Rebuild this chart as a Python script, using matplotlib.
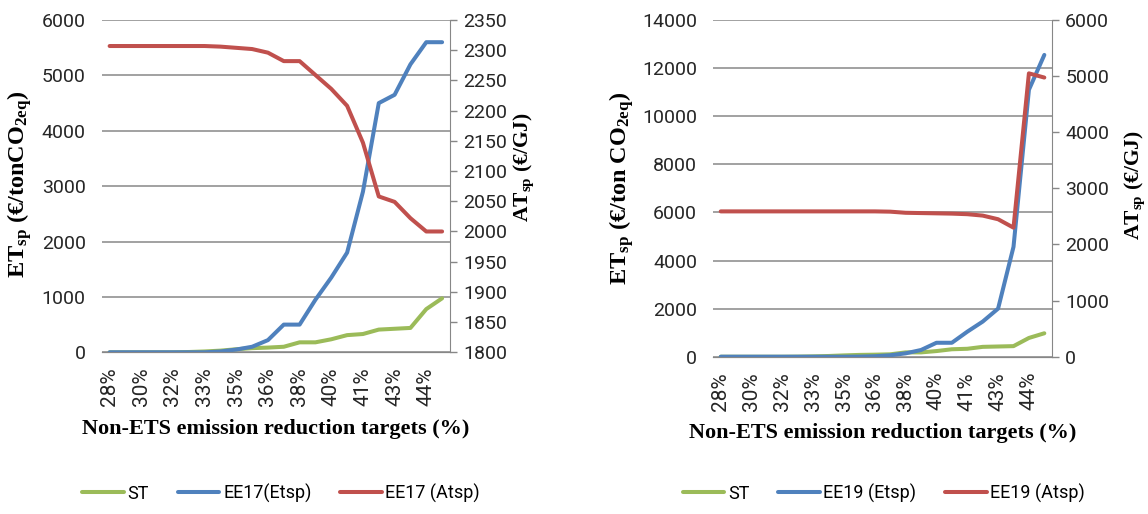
import numpy as np
import matplotlib
matplotlib.use("Agg")
import matplotlib.pyplot as plt

plt.rcParams['mathtext.fontset'] = 'custom'
plt.rcParams['mathtext.rm'] = 'Liberation Serif:bold'
plt.rcParams['mathtext.bf'] = 'Liberation Serif:bold'
plt.rcParams['mathtext.it'] = 'Liberation Serif:bold:italic'

# Non-ETS emission reduction targets (one entry per model run)
targets = ['28%', '29%', '30%', '31%', '32%', '32%', '33%', '34%', '35%', '35%', '36%',
           '37%', '38%', '39%', '40%', '40%', '41%', '42%', '43%', '43%', '44%', '45%']

# Standard technology scenario, ETsp in EUR/tCO2eq
st = [0, 0, 0, 0, 0, 5, 15, 30, 55, 75, 85,
      100, 180, 180, 235, 310, 330, 410, 425, 440, 780, 975]

# EE17 scenario
ee17_etsp = [0, 0, 0, 0, 0, 0, 0, 15, 50, 100, 220,
             500, 500, 950, 1350, 1800, 2900, 4500, 4650, 5200, 5600, 5600]
ee17_atsp = [2307, 2307, 2307, 2307, 2307, 2307, 2307, 2306, 2304, 2302, 2296,
             2282, 2282, 2259, 2236, 2208, 2147, 2058, 2049, 2022, 2000, 2000]

# EE19 scenario
ee19_etsp = [0, 0, 0, 0, 0, 0, 0, 0, 0, 5, 20,
             60, 140, 280, 580, 580, 1040, 1460, 2000, 4570, 11100, 12550]
ee19_atsp = [2590, 2590, 2590, 2590, 2590, 2590, 2590, 2590, 2590, 2590, 2590,
             2585, 2565, 2560, 2555, 2550, 2540, 2515, 2450, 2300, 5050, 4975]

GREEN = '#9BBB59'
BLUE = '#4F81BD'
RED = '#C0504D'
GRID = '#878787'
TICK_FONT = ['Roboto', 'DejaVu Sans']
SERIF = 'Liberation Serif'
W, H = 1148, 514

x = np.arange(len(targets))


def draw_panel(rect, etsp, atsp, etsp_name, atsp_name, ylim, ystep, y2lim, y2step,
               ylabel, ylabel_pos, y2label_pos, legend_x):
    ax = fig.add_axes(rect)
    ax2 = ax.twinx()

    l1, = ax.plot(x, st, color=GREEN, lw=2.9, solid_capstyle='round', label='ST')
    l2, = ax.plot(x, etsp, color=BLUE, lw=2.9, solid_capstyle='round', label=etsp_name)
    l3, = ax2.plot(x, atsp, color=RED, lw=2.9, solid_capstyle='round', label=atsp_name)

    ax.set_xlim(-0.5, len(targets) - 0.5)
    ax.set_ylim(*ylim)
    ax.set_yticks(np.arange(ylim[0], ylim[1] + 1, ystep))
    ax2.set_ylim(*y2lim)
    ax2.set_yticks(np.arange(y2lim[0], y2lim[1] + 1, y2step))

    ax.set_xticks(x[::2])
    ax.set_xticklabels(targets[::2], rotation=90)
    for lab in ax.get_xticklabels() + ax.get_yticklabels() + ax2.get_yticklabels():
        lab.set_family(TICK_FONT)
        lab.set_color('#262626')

    ax.yaxis.grid(True, color=GRID, lw=1.1)
    ax.set_axisbelow(True)
    ax.tick_params(axis='y', length=0, labelsize=14, pad=11.5)
    ax.tick_params(axis='x', length=0, labelsize=15, pad=11)
    ax2.tick_params(axis='y', length=5, width=1, color=GRID, labelsize=14, pad=4.5)

    for a in (ax, ax2):
        a.spines['top'].set_visible(False)
        a.spines['left'].set_visible(False)
        a.spines['bottom'].set_color(GRID)
    ax.spines['right'].set_visible(False)
    ax2.spines['right'].set_color(GRID)

    ax.set_xlabel('Non-ETS emission reduction targets (%)', family=SERIF,
                  fontweight='bold', fontsize=16, labelpad=9)

    fig.text(ylabel_pos[0] / W, 1 - ylabel_pos[1] / H, ylabel, rotation=90,
             ha='center', va='center', family=SERIF, fontweight='bold', fontsize=17.5)
    fig.text(y2label_pos[0] / W, 1 - y2label_pos[1] / H, r'AT$_{\mathrm{sp}}$ (€/GJ)',
             rotation=90, ha='center', va='center', family=SERIF,
             fontweight='bold', fontsize=15.5)

    fig.legend(handles=[l1, l2, l3], loc='center', ncol=3, frameon=False,
               bbox_to_anchor=(legend_x, 0.04), prop={'family': TICK_FONT, 'size': 13},
               handlelength=2.3, columnspacing=1.6, handletextpad=0.2)
    return ax


fig = plt.figure(figsize=(W / 100, H / 100), dpi=100)

draw_panel([0.0886, 0.3146, 0.3034, 0.6464], ee17_etsp, ee17_atsp,
           'EE17(Etsp)', 'EE17 (Atsp)', (0, 6000), 1000, (1800, 2350), 50,
           r'ET$_{\mathrm{sp}}$ (€/tonCO$_{\mathrm{2eq}}$)', (20, 184), (524, 167), 0.245)
draw_panel([0.6211, 0.306, 0.2953, 0.655], ee19_etsp, ee19_atsp,
           'EE19 (Etsp)', 'EE19 (Atsp)', (0, 14000), 2000, (0, 6000), 1000,
           r'ET$_{\mathrm{sp}}$ (€/ton CO$_{\mathrm{2eq}}$)', (622, 188), (1135, 185), 0.77)

fig.savefig('out.png', dpi=100)
